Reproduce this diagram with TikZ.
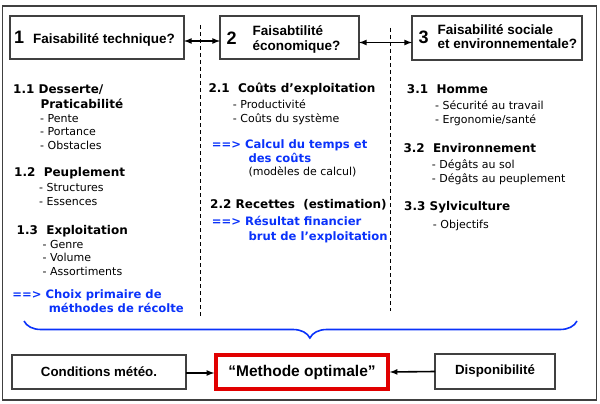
\documentclass[tikz,border=0pt]{standalone}
\usepackage{fontspec}
\setmainfont{DejaVu Sans}
\newfontfamily\boxfont{Liberation Sans}
\usepackage{tikz}
\usetikzlibrary{positioning,decorations.pathreplacing,arrows}
\usepackage{xcolor}
\definecolor{myblue}{RGB}{10,50,250}
\definecolor{mygray}{RGB}{64,64,64}
\definecolor{myred}{RGB}{225,0,0}
\tikzstyle{box}=[draw=mygray,line width=1.1pt,inner sep=0,outer sep=0]

\begin{document}
\begin{tikzpicture}[x=1pt,y=-1pt,
    num/.style={
        font=\boxfont\bfseries\fontsize{18}{18}\selectfont,
        anchor=base west,
        inner sep=0
    },
    boxtitle/.style={
        font=\boxfont\bfseries\fontsize{13.5}{14.5}\selectfont,
        anchor=base west,
        inner sep=0,
        align=left
    },
    head/.style={
        font=\bfseries\fontsize{12}{14.5}\selectfont,
        anchor=base west,
        inner sep=0,
        align=left
    },
    item/.style={
        font=\fontsize{11}{13.2}\selectfont,
        anchor=base west,
        inner sep=0,
        align=left
    },
    res/.style={
        font=\bfseries\fontsize{11.6}{14.5}\selectfont,
        text=myblue,
        anchor=base west,
        inner sep=0,
        align=left
    },
    link/.style={line width=1.6pt,latex-latex},
    feed/.style={line width=1.6pt,-latex}
    ]
    \useasboundingbox (0,0) rectangle (600,404);
    \draw[mygray,line width=1.1pt] (2.5,6) rectangle (596.5,400);
    % top boxes
    \node[box,minimum width=174,minimum height=43] (b1) at (97,37.5) {};
    \node[box,minimum width=139,minimum height=43] (b2) at (289.5,37.5) {};
    \node[box,minimum width=170,minimum height=44] (b3) at (497,38) {};
    \node[num] (n1) at (14,44) {1};
    \node[boxtitle] (t1) at (33,43.3) {Faisabilité technique?};
    \node[num] (n2) at (226.5,45) {2};
    \node[boxtitle] (t2) at (252.5,50.5) {Faisabtilité\\économique?};
    \node[num] (n3) at (418.5,43.3) {3};
    \node[boxtitle] (t3) at (437.5,49) {Faisabilité sociale\\et environnementale?};
    \draw[link] ([yshift=-3.5pt]b1.east) -- ([yshift=-3.5pt]b2.west);
    \draw[link] ([yshift=-5pt]b2.east) -- ([yshift=-4.5pt]b3.west);
    \draw[dash pattern=on 4pt off 3pt,line width=0.8pt] (200.5,25) -- (200.5,316);
    \draw[dash pattern=on 4pt off 3pt,line width=0.8pt] (390.5,28) -- (390.5,311);
    % column 1
    \node[head] (h11) at (13,108) {1.1 Desserte/\\\hspace*{27.3pt}Praticabilité};
    \node[item] (i11) at (40,149) {- Pente\\- Portance\\- Obstacles};
    \node[head] (h12) at (14,176.5) {1.2\ \ Peuplement};
    \node[item] (i12) at (39,205) {- Structures\\- Essences};
    \node[head] (h13) at (16.5,234) {1.3\ \ Exploitation};
    \node[item] (i13) at (42.5,275) {- Genre\\- Volume\\- Assortiments};
    \node[res] (r1) at (12.3,312.5) {==> Choix primaire de\\\hspace*{36.4pt}méthodes de récolte};
    % column 2
    \node[head] (h21) at (208.3,92.5) {2.1\ \ Coûts d’exploitation};
    \node[item] (i21) at (232.7,122) {- Productivité\\- Coûts du système};
    \node[res] (r21) at (211.7,162.7) {==> Calcul du temps et\\\hspace*{36.6pt}des coûts};
    \node[item] (m21) at (248.3,175.5) {(modèles de calcul)};
    \node[head] (h22) at (210,208) {2.2 Recettes\ \ (estimation)};
    \node[res] (r22) at (211.7,240) {==> Résultat financier\\\hspace*{36.6pt}brut de l’exploitation};
    % column 3
    \node[head] (h31) at (406.7,94) {3.1\ \ Homme};
    \node[item] (i31) at (435,123) {- Sécurité au travail\\- Ergonomie/santé};
    \node[head] (h32) at (403.3,152.5) {3.2\ \ Environnement};
    \node[item] (i32) at (431.7,182) {- Dégâts au sol\\- Dégâts au peuplement};
    \node[head] (h33) at (404,210.5) {3.3 Sylviculture};
    \node[item] (i33) at (432.7,228.5) {- Objectifs};
    % brace and result
    \draw[myblue,line width=1.6pt,decorate,decoration={brace,mirror,amplitude=17pt,aspect=0.517}] 
        (24,321) -- (577,321);
    \node[box,font=\boxfont\bfseries\fontsize{13.3}{14}\selectfont,minimum width=174,minimum height=34] 
        (cond) at (99,372) {Conditions météo.};
    \node[draw=myred,line width=3.5pt,inner sep=0,font=\boxfont\bfseries\fontsize{15.5}{16}\selectfont,minimum width=172,minimum height=34] 
        (meth) at (302,372) {“Methode optimale”};
    \node[box,font=\boxfont\bfseries\fontsize{13.3}{14}\selectfont,minimum width=120,minimum height=35] 
        (disp) at (495,371.5) {Disponibilité};
    \draw[feed] ([yshift=-1pt]cond.east) -- ([yshift=-1pt]meth.west);
    \draw[feed] (disp.west) -- (meth.east);
\end{tikzpicture}
\end{document}
